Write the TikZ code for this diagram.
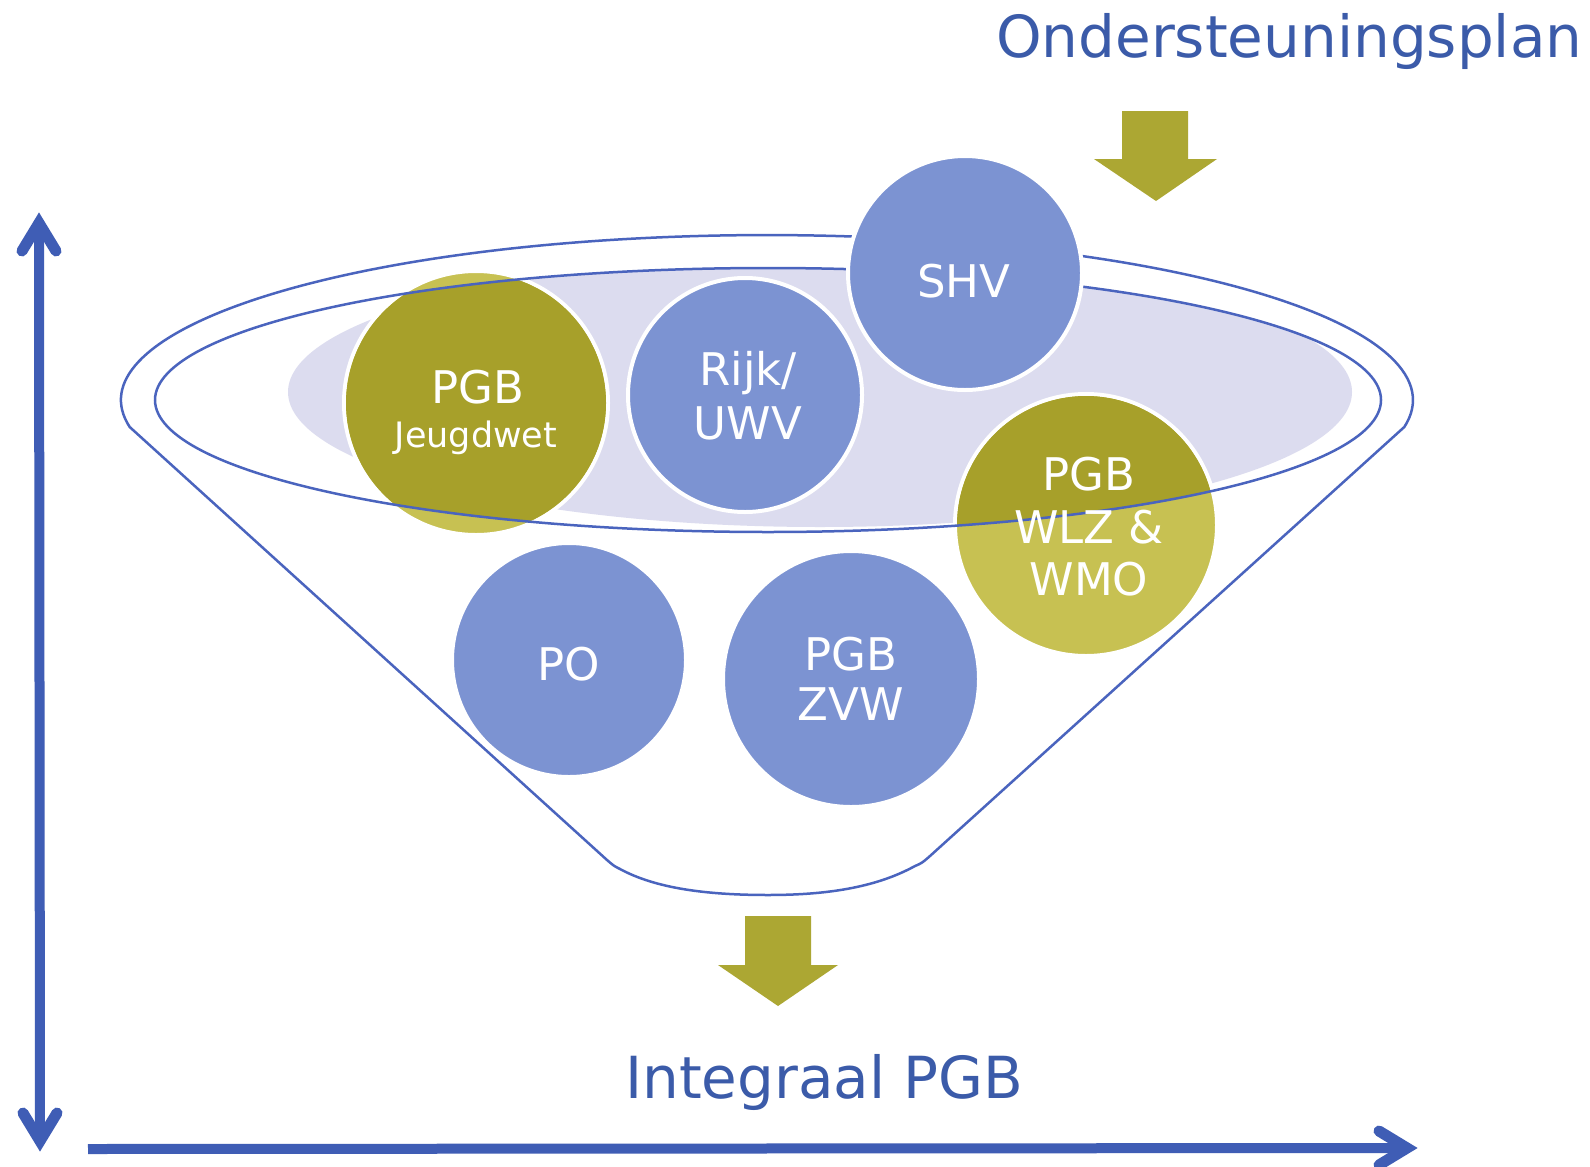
\documentclass[tikz,border=0pt]{standalone}
\usepackage{fontspec}
\setmainfont{DejaVu Sans}
\definecolor{lineblue}{HTML}{4A64BE}
\definecolor{axisblue}{HTML}{3F5DB5}
\definecolor{circblue}{HTML}{7C93D2}
\definecolor{olivedark}{HTML}{A7A02A}
\definecolor{olivelight}{HTML}{C7C152}
\definecolor{lavender}{HTML}{DCDCEF}
\definecolor{arrowolive}{HTML}{ACA733}
\definecolor{titleblue}{HTML}{3B5BA9}
\begin{document}
\begin{tikzpicture}[x=1pt,y=-1pt,
  funnelline/.style={draw=lineblue, line width=2.5pt},
  circ/.style={circle, inner sep=0pt, draw=white, line width=4pt},
  bluec/.style={circ, fill=circblue},
  olivec/.style={circ, fill=olivelight},
  ctext/.style={text=white, inner sep=0pt, anchor=base, font=\fontsize{45}{52}\selectfont},
  stext/.style={ctext, font=\fontsize{35}{40}\selectfont},
  titletext/.style={text=titleblue, inner sep=0pt, anchor=base west, font=\fontsize{58}{66}\selectfont},
  axisline/.style={draw=axisblue, line width=10pt},
  chev/.style={draw=axisblue, line width=11pt, line cap=round, line join=miter},
  blockarrow/.style={fill=arrowolive}]
\fill[white] (0,0) rectangle (1590,1167);
\useasboundingbox (0,0) rectangle (1590,1167);
% funnel outline
\draw[funnelline] (129.7,427) arc[start angle=170.6, end angle=369.4, x radius=646, y radius=165]
  -- (930,856) .. controls (922,863) .. (915,866) .. controls (875,888) and (825,895) .. (768,895)
  .. controls (705,895) and (655,888) .. (620,869) .. controls (614,866) .. (607,860) -- cycle;
% lavender
\begin{scope}
  \clip (768,400) ellipse [x radius=613, y radius=132];
  \fill[lavender] (820,392) ellipse [x radius=532, y radius=135];
\end{scope}
% olive circles
\node[olivec, minimum size=264pt] (pgbj) at (476,403) {};
\node[olivec, minimum size=262pt] (pgbw) at (1086,525) {};
\begin{scope}
  \clip (768,400) ellipse [x radius=613, y radius=132];
  \fill[olivedark] (pgbj.center) circle[radius=130];
  \fill[olivedark] (pgbw.center) circle[radius=129];
\end{scope}
% inner ellipse line
\draw[funnelline] (768,400) ellipse [x radius=613, y radius=132];
% blue circles
\node[bluec, minimum size=234pt] (rijk) at (745,395) {};
\node[bluec, minimum size=234pt] (shv) at (965,273) {};
\node[bluec, minimum size=234pt] (po) at (569,660) {};
\node[bluec, minimum size=256pt] (zvw) at (851,679) {};
% circle texts
\node[ctext] (pgbj1) at (478,403) {PGB};
\node[stext] (pgbj2) at (476,447) {Jeugdwet};
\node[ctext] (rijk1) at (748,385) {Rijk/};
\node[ctext] (rijk2) at (748,439) {UWV};
\node[ctext] (shv1) at (964,297) {SHV};
\node[ctext] (pgbw1) at (1089,490) {PGB};
\node[ctext] (pgbw2) at (1089,543) {WLZ \&};
\node[ctext] (pgbw3) at (1089,595) {WMO};
\node[ctext] (po1) at (569,680) {PO};
\node[ctext] (zvw1) at (851,670) {PGB};
\node[ctext] (zvw2) at (851,720) {ZVW};
% axes
\coordinate (vtop) at (39,223);
\coordinate (vbot) at (40,1141);
\coordinate (hleft) at (88,1149);
\coordinate (hright) at (1407,1148);
\draw[axisline] (vtop) -- (vbot);
\draw[chev] (22,251) -- (vtop) -- (56,251);
\draw[chev] (23,1113) -- (vbot) -- (57,1113);
\draw[axisline] (hleft) -- (hright);
\draw[chev] (1379,1131) -- (hright) -- (1379,1165);
% block arrows
\fill[blockarrow] (1122,111) -- (1188,111) -- (1188,159) -- (1217,159) -- (1156,201) -- (1094,159) -- (1122,159) -- cycle;
\fill[blockarrow] (745,916) -- (811,916) -- (811,965) -- (838,965) -- (778,1006) -- (718,965) -- (745,965) -- cycle;
% titles
\node[titletext] (ond) at (996,57) {Ondersteuningsplan};
\node[titletext] (intg) at (625,1098) {Integraal PGB};
\end{tikzpicture}
\end{document}
